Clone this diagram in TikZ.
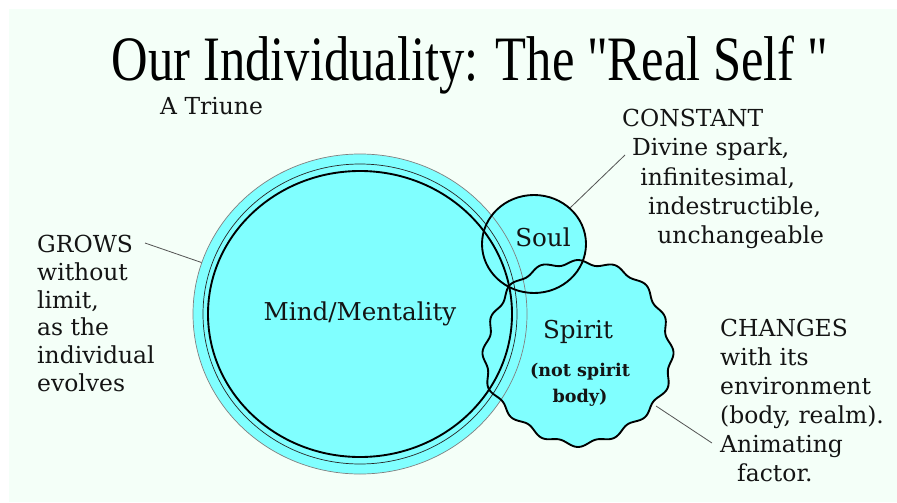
\documentclass[tikz,border=0pt]{standalone}
\usepackage{fontspec}
\setmainfont{DejaVu Serif}
\newfontfamily\titlefont{Liberation Serif}
\usetikzlibrary{positioning, shapes.geometric}

\definecolor{mintbg}{RGB}{244,255,248}
\definecolor{triunecyan}{RGB}{128,255,255}
\definecolor{leadergray}{RGB}{85,85,85}

\begin{document}
\begin{tikzpicture}[x=0.03cm, y=-0.03cm,
    ring/.style={draw=black, line width=1.6pt},
    thinring/.style={draw=black!85, line width=0.6pt},
    leader/.style={draw=leadergray, line width=0.7pt},
    note/.style={font=\fontsize{20}{25}\selectfont, align=left, inner sep=0pt, text=black!92},
    partlabel/.style={font=\fontsize{21}{25}\selectfont, inner sep=0pt, text=black!92}
  ]

  % Page and background
  \useasboundingbox (0,0) rectangle (897,502);
  \fill[mintbg] (9,9) rectangle (897,502);

  % Title
  \node[anchor=base] (title) at (470,80)
    {\scalebox{0.8}[1]{\titlefont\fontsize{54}{54}\selectfont Our Individuality: The "Real Self "}};
  \node[note, anchor=west] (triune) at (160,106) {A Triune};

  % Fills first, so every outline stays visible
  \fill[triunecyan] (360,314) ellipse [x radius=167, y radius=160];
  \fill[triunecyan] (534,244) ellipse [x radius=52, y radius=49];
  \fill[triunecyan] plot[smooth cycle, domain=0:358.5, samples=240]
    ({578+(93+2.5*cos(16*\x)+1.5*sin(5*\x))*cos(\x)}, {352+(91+2.5*cos(16*\x)+1.5*sin(5*\x))*sin(\x)});

  % Mind
  \node[ellipse, draw=gray, line width=0.6pt, inner sep=0pt,
        minimum width=10.02cm, minimum height=9.6cm, text=black!92,
        font=\fontsize{21}{25}\selectfont] (mind) at (360,314) {Mind/Mentality};
  \draw[thinring] (360,314) ellipse [x radius=157, y radius=150];
  \draw[ring] (360,314) ellipse [x radius=152, y radius=143];

  % Soul
  \node[ring, ellipse, inner sep=0pt, minimum width=3.12cm, minimum height=2.94cm] (soul) at (534,244) {};
  \node[partlabel] (soullabel) at (543,237) {Soul};

  % Spirit
  \draw[ring] plot[smooth cycle, domain=0:358.5, samples=240]
    ({578+(93+2.5*cos(16*\x)+1.5*sin(5*\x))*cos(\x)}, {352+(91+2.5*cos(16*\x)+1.5*sin(5*\x))*sin(\x)});
  \coordinate (spiritpin) at (656,406);
  \node[partlabel] (spirit) at (578,332) {Spirit};
  \node[partlabel, font=\bfseries\fontsize{15}{22}\selectfont, align=center] (notbody) at (580,385) {(not spirit\\body)};

  % Notes
  \node[note, anchor=north west, font=\fontsize{20}{23.7}\selectfont] (grows) at (37,235)
    {GROWS\\without\\limit,\\as the\\individual\\evolves};
  \node[note, anchor=north west] (constant) at (622,109)
    {CONSTANT\\\hspace*{8.5pt}Divine spark,\\\hspace*{15.5pt}infinitesimal,\\\hspace*{22pt}indestructible,\\\hspace*{30pt}unchangeable};
  \node[note, anchor=north west, font=\fontsize{20}{24.8}\selectfont] (changes) at (720,319)
    {CHANGES\\with its\\environment\\(body, realm).\\Animating\\\hspace*{14.5pt}factor.};

  % Leaders
  \coordinate (growspin) at (145,243);
  \coordinate (constantpin) at (625,155);
  \coordinate (changespin) at (712,443);
  \draw[leader] (growspin) -- (mind.162);
  \draw[leader] (constantpin) -- (soul.45);
  \draw[leader] (changespin) -- (spiritpin);

\end{tikzpicture}
\end{document}
